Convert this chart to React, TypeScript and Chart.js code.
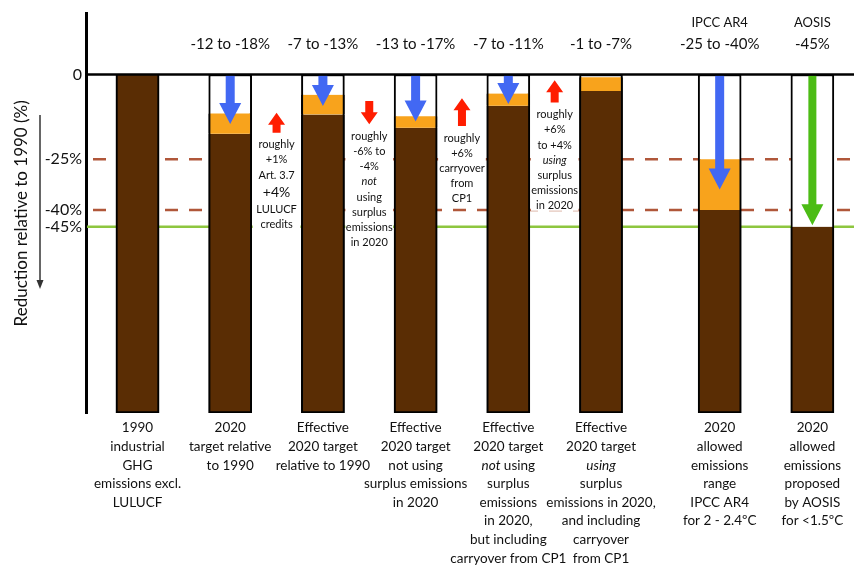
import React, { useEffect, useRef } from "react";
import { Chart, registerables } from "chart.js";
Chart.register(...registerables);

// ---------- data ----------
const categoryLines: string[][] = [
  ["1990", "industrial", "GHG", "emissions excl.", "LULUCF"],
  ["2020", "target relative", "to 1990"],
  ["Effective", "2020 target", "relative to 1990"],
  ["Effective", "2020 target", "not using", "surplus emissions", "in 2020"],
  ["Effective", "2020 target", "*not* using", "surplus", "emissions", "in 2020,", "but including", "carryover from CP1"],
  ["Effective", "2020 target", "*using*", "surplus", "emissions in 2020,", "and including", "carryover", "from CP1"],
  ["2020", "allowed", "emissions", "range", "IPCC AR4", "for 2 - 2.4ºC"],
  ["2020", "allowed", "emissions", "proposed", "by AOSIS", "for <1.5ºC"],
];
const headerLabels = ["", "", "", "", "", "", "IPCC AR4", "AOSIS"];
const rangeLabels = ["", "-12 to -18%", "-7 to -13%", "-13 to -17%", "-7 to -11%", "-1 to -7%", "-25 to -40%", "-45%"];
// brown part: top of emissions (reduction %)
const emissionsTop = [0, -17.5, -11.8, -15.7, -9.2, -4.9, -40, -45];
// orange part: upper end of the range
const rangeTop = [0, -11.5, -6, -12.3, -5.6, -0.8, -25, -45];
// big arrows from 0 down to these values
const arrowTips: (number | null)[] = [null, -14.6, -9.3, -13.9, -8.7, null, -34, -44.5];
const arrowKinds = ["", "blue", "blue", "blue", "blue", "", "blue", "green"];
// reference levels
const refLevels = [-25, -40, -45];
const refStyles = ["dashed", "dashed", "solid"];
const yTicks = [0, -25, -40, -45];
// notes between bars (after bar index)
const noteAfter = [1, 2, 3, 4];
const noteArrowFrom = [-17.2, -7.8, -15.2, -8.3];
const noteArrowTo = [-11.3, -14.7, -7.0, -1.7];
const noteLines: string[][] = [
  ["roughly", "+1%", "Art. 3.7", "!+4%", "LULUCF", "credits"],
  ["roughly", "-6% to", "-4%", "*not*", "using", "surplus", "emissions", "in 2020"],
  ["roughly", "+6%", "carryover", "from", "CP1"],
  ["roughly", "+6%", "to +4%", "*using*", "surplus", "emissions", "in 2020"],
];
const yTitle = "Reduction relative to 1990 (%)";

// ---------- styles ----------
const FONT = "Lato, 'Open Sans', sans-serif";
const BROWN = "#5a2d04";
const ORANGE = "#f8a31c";
const BLUE = "#4268f3";
const GREEN_ARROW = "#4cbc15";
const GREEN_LINE = "#8dc63f";
const RED = "#ff1d00";
const DASH = "#b0573a";
const BAR_PX = 43;

function xPos(i: number) {
  return i + (i >= 6 ? 0.28 : 0);
}

function drawArrow(ctx: CanvasRenderingContext2D, cx: number, yFrom: number, yTo: number,
  shaftW: number, headW: number, headH: number, color: string) {
  const dir = Math.sign(yTo - yFrom) || 1;
  const headBase = yTo - dir * headH;
  ctx.fillStyle = color;
  ctx.beginPath();
  ctx.moveTo(cx - shaftW / 2, yFrom);
  ctx.lineTo(cx + shaftW / 2, yFrom);
  ctx.lineTo(cx + shaftW / 2, headBase);
  ctx.lineTo(cx + headW / 2, headBase);
  ctx.lineTo(cx, yTo);
  ctx.lineTo(cx - headW / 2, headBase);
  ctx.lineTo(cx - shaftW / 2, headBase);
  ctx.closePath();
  ctx.fill();
}

function drawRich(ctx: CanvasRenderingContext2D, text: string, cx: number, cy: number, size: number) {
  const parts = text.split("*");
  const fonts = parts.map((_, k) => `${k % 2 === 1 ? "italic " : ""}${size}px ${FONT}`);
  let total = 0;
  const widths = parts.map((p, k) => {
    ctx.font = fonts[k];
    const w = ctx.measureText(p).width;
    total += w;
    return w;
  });
  let x = cx - total / 2;
  ctx.textAlign = "left";
  ctx.textBaseline = "middle";
  parts.forEach((p, k) => {
    ctx.font = fonts[k];
    ctx.fillText(p, x, cy);
    x += widths[k];
  });
}

const decorPlugin = {
  id: "decor",
  beforeDatasetsDraw(chart: any) {
    const { ctx, chartArea, scales } = chart;
    const y = scales.y;
    ctx.save();
    refLevels.forEach((lv, k) => {
      const yy = y.getPixelForValue(lv);
      ctx.beginPath();
      if (refStyles[k] === "dashed") {
        ctx.strokeStyle = DASH;
        ctx.lineWidth = 2.5;
        ctx.setLineDash([13, 11]);
        ctx.moveTo(chartArea.left + 7, yy);
      } else {
        ctx.strokeStyle = GREEN_LINE;
        ctx.lineWidth = 2.5;
        ctx.setLineDash([]);
        ctx.moveTo(chartArea.left + 1, yy);
      }
      ctx.lineTo(chartArea.right, yy);
      ctx.stroke();
    });
    ctx.restore();
  },
  afterDatasetsDraw(chart: any) {
    const { ctx, chartArea, scales } = chart;
    const x = scales.x, y = scales.y;
    const px = (i: number) => x.getPixelForValue(xPos(i));
    ctx.save();
    ctx.setLineDash([]);

    // notes between bars
    noteAfter.forEach((i, k) => {
      const cx = (px(i) + px(i + 1)) / 2;
      const aFrom = y.getPixelForValue(noteArrowFrom[k]);
      const aTo = y.getPixelForValue(noteArrowTo[k]);
      const bottom = Math.max(aFrom, aTo);
      const ys: number[] = [];
      let cy = bottom + 12;
      noteLines[k].forEach((ln, j) => {
        const big = ln.startsWith("!");
        if (big && j > 0) cy += 2;
        ys.push(cy);
        cy += 15.2 + (big ? 2 : 0);
      });
      const lastY = ys[ys.length - 1];
      const left = px(i) + BAR_PX / 2 + 1;
      const right = px(i + 1) - BAR_PX / 2 - 1;
      ctx.fillStyle = "#fff";
      ctx.fillRect(left, ys[0] - 8, right - left, lastY + 5 - (ys[0] - 8));
      drawArrow(ctx, cx, aFrom, aTo, 8, 17, 12, RED);
      ctx.fillStyle = "#111";
      noteLines[k].forEach((ln, j) => {
        const big = ln.startsWith("!");
        drawRich(ctx, big ? ln.slice(1) : ln, cx, ys[j], big ? 14 : 11);
      });
    });

    // big arrows
    const y0 = y.getPixelForValue(0);
    arrowTips.forEach((t, i) => {
      if (t === null) return;
      const color = arrowKinds[i] === "green" ? GREEN_ARROW : BLUE;
      drawArrow(ctx, px(i), y0 + 1, y.getPixelForValue(t), arrowKinds[i] === "green" ? 8 : 9, 22, 21, color);
    });

    // zero line
    ctx.strokeStyle = "#000";
    ctx.lineWidth = 2.5;
    ctx.beginPath();
    ctx.moveTo(chartArea.left, y0);
    ctx.lineTo(chartArea.right, y0);
    ctx.stroke();

    // top labels
    ctx.fillStyle = "#111";
    categoryLines.forEach((_, i) => {
      if (rangeLabels[i]) drawRich(ctx, rangeLabels[i], px(i), 44, 15);
      if (headerLabels[i]) drawRich(ctx, headerLabels[i], px(i), 23, 13);
    });

    // bottom category labels
    categoryLines.forEach((lines, i) => {
      lines.forEach((ln, j) => {
        drawRich(ctx, ln, px(i), chartArea.bottom + 15 + j * 18.6, 13.5);
      });
    });

    // y axis direction arrow
    ctx.strokeStyle = "#333";
    ctx.fillStyle = "#333";
    ctx.lineWidth = 1.5;
    ctx.beginPath();
    ctx.moveTo(40, 115);
    ctx.lineTo(40, 282);
    ctx.stroke();
    ctx.beginPath();
    ctx.moveTo(36.5, 280);
    ctx.lineTo(43.5, 280);
    ctx.lineTo(40, 289);
    ctx.closePath();
    ctx.fill();
    ctx.restore();
  },
};

export default function App() {
  const ref = useRef<HTMLCanvasElement>(null);
  useEffect(() => {
    const canvas = ref.current;
    if (!canvas) return;
    const boxData = categoryLines.map((_, i) => ({ x: xPos(i), y: [-100, 0] }));
    const brownData = emissionsTop.map((v, i) => ({ x: xPos(i), y: [-100, v] }));
    const orangeData = rangeTop
      .map((v, i) => ({ x: xPos(i), y: [emissionsTop[i], v] }))
      .filter((d) => d.y[0] !== d.y[1]);

    const chart = new Chart(canvas, {
      type: "bar",
      data: {
        datasets: [
          {
            label: "range",
            data: orangeData as any,
            backgroundColor: ORANGE,
            borderColor: "#000",
            borderWidth: { left: 2, right: 2, top: 0, bottom: 0 } as any,
            borderSkipped: false,
            barThickness: BAR_PX,
            grouped: false,
            order: 1,
          },
          {
            label: "emissions",
            data: brownData as any,
            backgroundColor: BROWN,
            borderColor: "#000",
            borderWidth: { left: 2, right: 2, top: 0, bottom: 2 } as any,
            borderSkipped: false,
            barThickness: BAR_PX,
            grouped: false,
            order: 2,
          },
          {
            label: "box",
            data: boxData as any,
            backgroundColor: "#fff",
            borderColor: "#000",
            borderWidth: 2,
            borderSkipped: false,
            barThickness: BAR_PX,
            grouped: false,
            order: 3,
          },
        ],
      },
      options: {
        responsive: false,
        animation: false,
        events: [],
        devicePixelRatio: 1,
        layout: { padding: { top: 12, bottom: 152, left: 0, right: 0 } },
        plugins: { legend: { display: false }, tooltip: { enabled: false } },
        scales: {
          x: { type: "linear", min: -0.5556, max: 7.729, offset: false, display: false },
          y: {
            type: "linear",
            min: -100,
            max: 18,
            grid: { display: false, drawTicks: false },
            border: { display: true, color: "#000", width: 3 },
            afterBuildTicks: (scale: any) => {
              scale.ticks = yTicks.map((v) => ({ value: v }));
            },
            afterFit: (scale: any) => {
              scale.width = 86;
            },
            ticks: {
              autoSkip: false,
              padding: 4,
              color: "#111",
              font: { family: FONT, size: 16 },
              callback: (v: any) => (v === 0 ? "0" : `${v}%`),
            },
            title: {
              display: true,
              text: yTitle,
              color: "#111",
              font: { family: FONT, size: 17 },
              padding: { top: 11, bottom: 0 },
            },
          },
        },
      },
      plugins: [decorPlugin],
    });
    return () => chart.destroy();
  }, []);

  return (
    <div style={{ position: "fixed", left: 0, top: 0, width: 854, height: 565, background: "#fff" }}>
      <canvas ref={ref} width={854} height={565} />
    </div>
  );
}
